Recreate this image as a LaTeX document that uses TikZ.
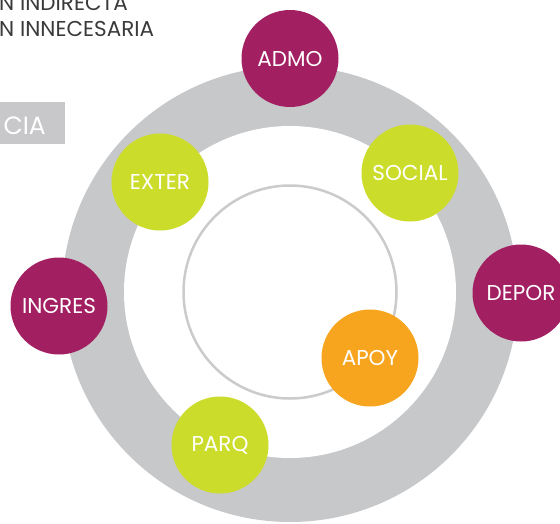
\documentclass[tikz,border=0pt]{standalone}
\usepackage{fontspec}
\setmainfont{Poppins}
\definecolor{magc}{HTML}{A21F62}
\definecolor{limec}{HTML}{CCDC2B}
\definecolor{orangec}{HTML}{F7A51E}
\definecolor{ringc}{HTML}{C7C8CA}
\definecolor{thinc}{HTML}{CBCBCB}
\definecolor{boxc}{HTML}{C8C8CA}
\definecolor{txtc}{HTML}{3A3A3A}
\begin{document}
\begin{tikzpicture}[x=1pt,y=-1pt,
  dot/.style={circle, minimum size=97pt, inner sep=0pt, text=white, font=\fontsize{21.5}{24}\selectfont},
  mdot/.style={dot, fill=magc},
  ldot/.style={dot, fill=limec},
  odot/.style={dot, fill=orangec},
  toptext/.style={anchor=base west, inner sep=0pt, text=txtc, font=\fontsize{21.5}{24}\selectfont}]
\useasboundingbox (0,0) rectangle (560,523);
\clip (0,0) rectangle (560,523);
\fill[ringc] (290,294) circle[radius=228];
\fill[white] (290,292) circle[radius=166];
\draw[thinc, line width=2.5pt] (290,292) circle[radius=106.5];
\node[toptext] (t1) at (-1,10) {N INDIRECTA};
\node[toptext] (t2) at (-1,36.5) {N INNECESARIA};
\node[fill=boxc, anchor=north west, minimum width=65pt, minimum height=42pt, inner sep=0pt] (box) at (0,102) {};
\node[anchor=base east, inner sep=0pt, text=white, font=\fontsize{25}{28}\selectfont] (cia) at (46,134) {CIA};
\node[mdot] (admo) at (290,58.5) {ADMO};
\node[ldot] (social) at (410,173) {SOCIAL};
\node[ldot] (exter) at (160,182) {EXTER};
\node[mdot] (ingres) at (59,306) {INGRES};
\node[mdot] (depor) at (521,293) {DEPOR};
\node[odot] (apoy) at (370,358) {APOY};
\node[ldot] (parq) at (220,445) {PARQ};
\end{tikzpicture}
\end{document}
